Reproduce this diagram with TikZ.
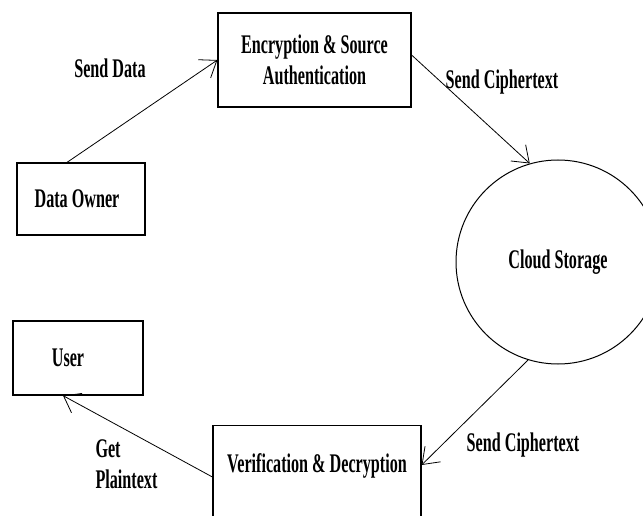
\documentclass[tikz,border=0pt]{standalone}
\usepackage{fontspec}
\setmainfont{Liberation Serif}[FakeStretch=0.6]
\usetikzlibrary{positioning, arrows.meta}

\begin{document}
\begin{tikzpicture}[x=1bp, y=-1bp, font={\fontsize{27}{31}\selectfont\bfseries},
  box/.style={draw, line width=1.2bp, rectangle},
  flow/.style={-{Straight Barb[length=15bp, width=22bp]}, line width=0.8bp}]
\useasboundingbox (0,0) rectangle (643,516);
\node(enc)[box, minimum width=193bp, minimum height=94bp, align=center] at (314.5,60){Encryption \& Source\\Authentication};
\node(owner)[box, minimum width=128bp, minimum height=72bp] at (81,199){Data Owner\hspace*{8bp}};
\node(cloud)[draw, circle, line width=1bp, minimum size=204bp] at (558,262){Cloud Storage};
\node(user)[box, minimum width=130bp, minimum height=74bp] at (78,358){User\hspace*{20bp}};
\node(verif)[box, anchor=north, minimum width=208bp, inner ysep=14bp, text height=33bp, text depth=70bp] at (317,425){Verification \& Decryption};

\node(senddata) at (110,68){Send Data};
\node(sendc1) at (502,82){Send Ciphertext};
\node(sendc2) at (523,445){Send Ciphertext};
\node(getplain)[anchor=west, align=left] at (92,464){Get\\Plaintext};

\draw[flow] ([xshift=-14bp]owner.north) -- (enc.west);
\draw[flow] ([yshift=5bp]enc.east) -- (cloud.106);
\draw[flow] (cloud.253) -- ([yshift=-40bp]verif.north east);
\draw[flow] ([yshift=-52bp]verif.north west) -- ([xshift=-15bp]user.south);
\end{tikzpicture}
\end{document}
